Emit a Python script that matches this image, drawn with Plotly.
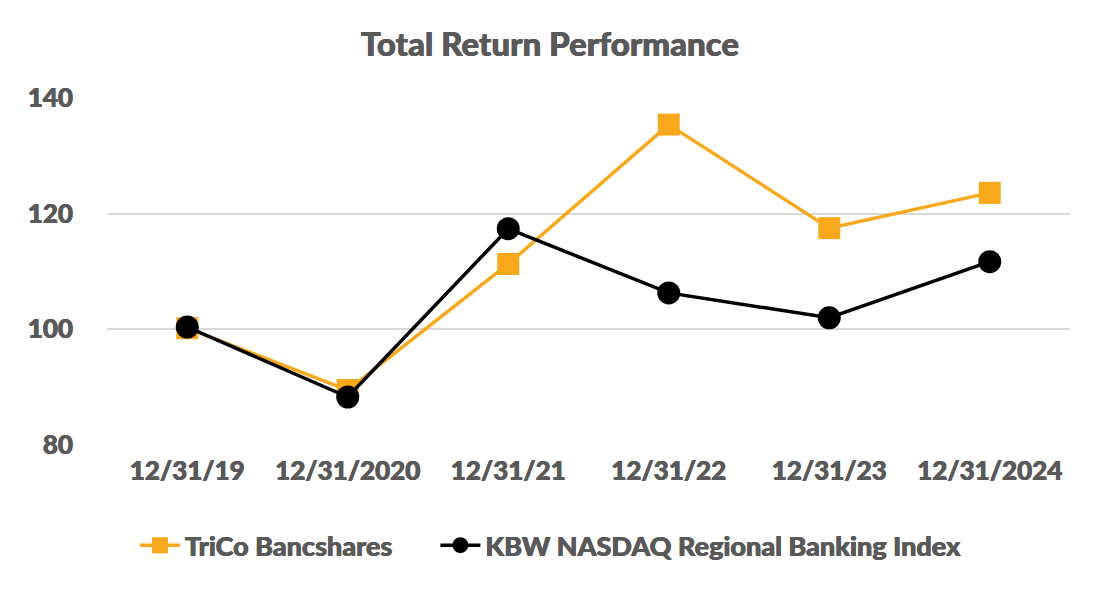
import plotly.graph_objects as go

categories = ["12/31/19", "12/31/2020", "12/31/21", "12/31/22", "12/31/23", "12/31/2024"]
trico = [100.2, 89.5, 111.3, 135.4, 117.5, 123.6]
kbw = [100.4, 88.3, 117.4, 106.3, 102.0, 111.7]
y_ticks = [80, 100, 120, 140]

GRAY = "#595959"
FONT = "Lato"
SHADOW = "0.4px 0 0 #595959, -0.4px 0 0 #595959"

fig = go.Figure()
fig.add_trace(go.Scatter(
    x=categories, y=trico, name="TriCo Bancshares", mode="lines+markers",
    line=dict(color="#F7A81B", width=3.5),
    marker=dict(symbol="square", size=22, color="#F7A81B"),
    legend="legend",
))
fig.add_trace(go.Scatter(
    x=categories, y=kbw, name="KBW NASDAQ Regional Banking Index", mode="lines+markers",
    line=dict(color="#000000", width=3.5),
    marker=dict(symbol="circle", size=23, color="#000000"),
    legend="legend2",
))

legend_common = dict(orientation="h", xanchor="left", y=-0.29, yanchor="middle",
                     font=dict(family=FONT, size=27, color=GRAY, weight=900, shadow=SHADOW),
                     itemwidth=40, bgcolor="rgba(0,0,0,0)")

fig.update_layout(
    width=1100, height=600,
    margin=dict(l=99, r=38, t=90, b=163),
    paper_bgcolor="white", plot_bgcolor="white",
    font=dict(family=FONT, color=GRAY, size=26, weight=900),
    title=dict(text="Total Return Performance", x=0.4927, xanchor="center", y=0.94, yanchor="middle",
               font=dict(family=FONT, size=33, color=GRAY, weight=900, shadow=SHADOW)),
    showlegend=True,
    legend=dict(x=0.029, **legend_common),
    legend2=dict(x=0.341, **legend_common),
)
fig.update_xaxes(type="category", range=[-0.5, 5.5], showgrid=False, showline=False,
                 zeroline=False, ticks="", ticklabelstandoff=8,
                 tickfont=dict(size=26, color=GRAY, family=FONT, weight=900, shadow=SHADOW))
fig.update_yaxes(range=[80, 140], tickvals=y_ticks, showgrid=True, gridcolor="#D9D9D9", gridwidth=1.5,
                 zeroline=False, showline=False, ticks="", ticklabelstandoff=33,
                 tickfont=dict(size=26, color=GRAY, family=FONT, weight=900, shadow=SHADOW))

fig.write_html("out.html")
